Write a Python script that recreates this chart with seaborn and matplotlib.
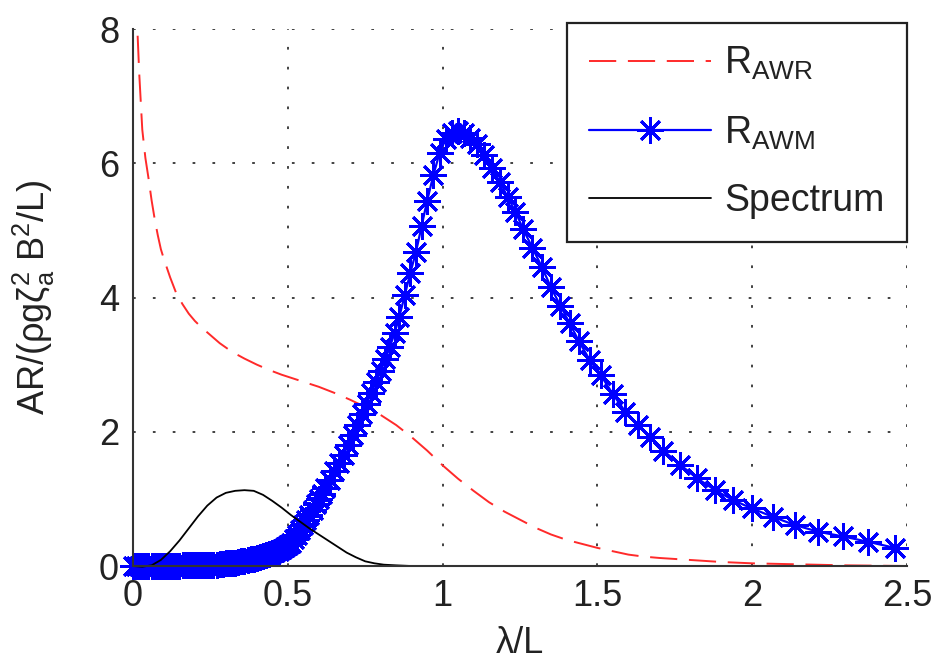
import matplotlib
matplotlib.use("Agg")
import matplotlib.pyplot as plt
import seaborn as sns

# ---------------- data ----------------
red_lam = [0.015, 0.02, 0.03, 0.04, 0.05, 0.06, 0.07, 0.08, 0.09, 0.10, 0.12, 0.14, 0.16, 0.18,
           0.20, 0.22, 0.25, 0.28, 0.32, 0.36, 0.40, 0.44, 0.48, 0.52, 0.56, 0.60, 0.65, 0.70,
           0.75, 0.80, 0.85, 0.90, 0.95, 1.00, 1.05, 1.10, 1.15, 1.20, 1.25, 1.30, 1.35, 1.40,
           1.45, 1.50, 1.55, 1.60, 1.65, 1.70, 1.80, 1.90, 2.00, 2.10, 2.20, 2.30, 2.40, 2.50]
red_awr = [7.90, 7.35, 6.50, 6.08, 5.78, 5.45, 5.17, 4.93, 4.72, 4.57, 4.30, 4.06, 3.90, 3.76,
           3.65, 3.56, 3.44, 3.32, 3.19, 3.09, 3.00, 2.92, 2.85, 2.79, 2.73, 2.67, 2.58, 2.48,
           2.37, 2.25, 2.10, 1.92, 1.72, 1.50, 1.30, 1.12, 0.95, 0.81, 0.69, 0.57, 0.47, 0.39,
           0.33, 0.27, 0.22, 0.17, 0.14, 0.12, 0.09, 0.06, 0.04, 0.03, 0.02, 0.01, 0.005, 0.0]

blue_lam = [0.00, 0.01, 0.02, 0.03, 0.04, 0.05, 0.06, 0.07, 0.08, 0.09, 0.10, 0.11, 0.12, 0.13,
            0.14, 0.15, 0.16, 0.17, 0.18, 0.19, 0.20, 0.21, 0.22, 0.23, 0.24, 0.25, 0.26, 0.27,
            0.28, 0.29, 0.30, 0.31, 0.32, 0.33, 0.34, 0.35, 0.36, 0.37, 0.38, 0.39, 0.40, 0.41,
            0.42, 0.43, 0.44, 0.45, 0.46, 0.47, 0.48, 0.49, 0.50,
            0.51, 0.52, 0.53, 0.54, 0.55, 0.56, 0.57, 0.58, 0.59, 0.60, 0.61, 0.62, 0.635, 0.65,
            0.665, 0.68, 0.695, 0.71, 0.725, 0.74, 0.755, 0.77, 0.785, 0.80, 0.815, 0.83, 0.845,
            0.86, 0.878, 0.896, 0.914, 0.932, 0.95, 0.97, 0.99, 1.01, 1.03, 1.05, 1.07, 1.09,
            1.11, 1.135, 1.16, 1.185, 1.21, 1.235, 1.26, 1.29, 1.32, 1.35, 1.38, 1.41, 1.44,
            1.475, 1.51, 1.55, 1.59, 1.63, 1.67, 1.713, 1.767, 1.821, 1.88, 1.939, 1.998, 2.068,
            2.138, 2.214, 2.294, 2.375, 2.461]
blue_awm = [0.00, 0.00, 0.00, 0.00, 0.00, 0.00, 0.00, 0.00, 0.00, 0.00, 0.00, 0.00, 0.00, 0.00,
            0.00, 0.00, 0.01, 0.01, 0.01, 0.01, 0.01, 0.01, 0.01, 0.02, 0.02, 0.02, 0.02, 0.02,
            0.03, 0.03, 0.04, 0.04, 0.05, 0.05, 0.06, 0.07, 0.08, 0.09, 0.10, 0.11, 0.12, 0.14,
            0.15, 0.17, 0.18, 0.20, 0.21, 0.23, 0.25, 0.28, 0.31,
            0.35, 0.40, 0.46, 0.53, 0.61, 0.68, 0.76, 0.84, 0.92, 1.00, 1.08, 1.16, 1.28, 1.41,
            1.53, 1.66, 1.80, 1.95, 2.10, 2.26, 2.42, 2.58, 2.74, 2.90, 3.08, 3.27, 3.47,
            3.71, 4.04, 4.37, 4.68, 5.06, 5.44, 5.82, 6.15, 6.36, 6.45, 6.48, 6.45, 6.38,
            6.28, 6.12, 5.93, 5.72, 5.50, 5.28, 5.02, 4.74, 4.46, 4.15, 3.88, 3.62, 3.35,
            3.07, 2.85, 2.56, 2.30, 2.10, 1.92, 1.72, 1.51, 1.31, 1.13, 0.98, 0.86, 0.73,
            0.61, 0.51, 0.44, 0.36, 0.27]

spec_lam = [0.00, 0.03, 0.06, 0.09, 0.12, 0.15, 0.18, 0.21, 0.24, 0.27, 0.30, 0.33, 0.36, 0.39,
            0.42, 0.45, 0.48, 0.51, 0.54, 0.57, 0.60, 0.63, 0.66, 0.69, 0.72, 0.75, 0.78, 0.81,
            0.85, 0.90, 1.00, 1.50, 2.10]
spec_val = [0.00, -0.01, 0.01, 0.09, 0.22, 0.38, 0.56, 0.74, 0.90, 1.02, 1.09, 1.12, 1.13, 1.12,
            1.06, 0.97, 0.87, 0.76, 0.66, 0.56, 0.47, 0.38, 0.29, 0.20, 0.13, 0.07, 0.04, 0.02,
            0.01, 0.00, 0.00, 0.00, 0.00]

x_ticks = [0, 0.5, 1, 1.5, 2, 2.5]
x_tick_labels = ["0", "0.5", "1", "1.5", "2", "2.5"]
y_ticks = [0, 2, 4, 6, 8]
y_tick_labels = ["0", "2", "4", "6", "8"]
series_labels = [r"R$_{AWR}$", r"R$_{AWM}$", "Spectrum"]

# ---------------- style ----------------
sns.set_theme(style="white")
plt.rcParams["font.family"] = ["Liberation Sans", "DejaVu Sans"]
plt.rcParams["mathtext.fontset"] = "custom"
plt.rcParams["mathtext.rm"] = "Liberation Sans"
plt.rcParams["mathtext.it"] = "Liberation Sans:italic"
plt.rcParams["mathtext.default"] = "regular"

fig = plt.figure(figsize=(9.32, 6.67), dpi=100)
ax = fig.add_axes([0.1427, 0.1514, 0.8305, 0.8051])

sns.lineplot(x=red_lam, y=red_awr, ax=ax, color="#ff2a2a", lw=1.4, sort=False,
             estimator=None, label=series_labels[0])
ax.lines[-1].set_dashes((14, 6))
sns.lineplot(x=blue_lam, y=blue_awm, ax=ax, color="#0000ff", lw=1.6, sort=False,
             estimator=None, label=series_labels[1], marker=(8, 2, 0), markersize=19,
             markeredgecolor="#0000ff", markeredgewidth=2.1, clip_on=False)
sns.lineplot(x=spec_lam, y=spec_val, ax=ax, color="black", lw=1.3, sort=False,
             estimator=None, label=series_labels[2], clip_on=False)

ax.set_xlim(0, 2.5)
ax.set_ylim(0, 8)
ax.set_xticks(x_ticks)
ax.set_xticklabels(x_tick_labels)
ax.set_yticks(y_ticks)
ax.set_yticklabels(y_tick_labels)

ax.grid(True, color="#333333", linestyle=(0, (1.5, 9.5)), linewidth=1.3)
for side in ["top", "right"]:
    ax.spines[side].set_visible(False)
for side in ["left", "bottom"]:
    ax.spines[side].set_color("#333333")
    ax.spines[side].set_linewidth(1.5)

ax.tick_params(axis="both", which="both", direction="in", length=6, width=1.2,
               colors="#333333", labelsize=26, labelcolor="#222222")
ax.tick_params(axis="x", pad=9)
ax.tick_params(axis="y", pad=10)

ax.set_xlabel("λ/L", fontsize=26, color="#222222", labelpad=9)
ax.set_ylabel(r"AR/($\rho$g$\zeta_a^2$ B$^2$/L)", fontsize=26, color="#222222", labelpad=30)

leg = ax.legend(loc="upper right", bbox_to_anchor=(1.0, 1.012), fontsize=27,
                frameon=True, fancybox=False, shadow=False, handlelength=3.25,
                numpoints=1, borderpad=0.6, labelspacing=0.85, handletextpad=0.35,
                borderaxespad=0.0)
leg.get_frame().set_edgecolor("#222222")
leg.get_frame().set_linewidth(1.6)
leg.get_frame().set_alpha(1.0)
for t in leg.get_texts():
    t.set_color("#222222")

fig.savefig("out.png", dpi=100)
